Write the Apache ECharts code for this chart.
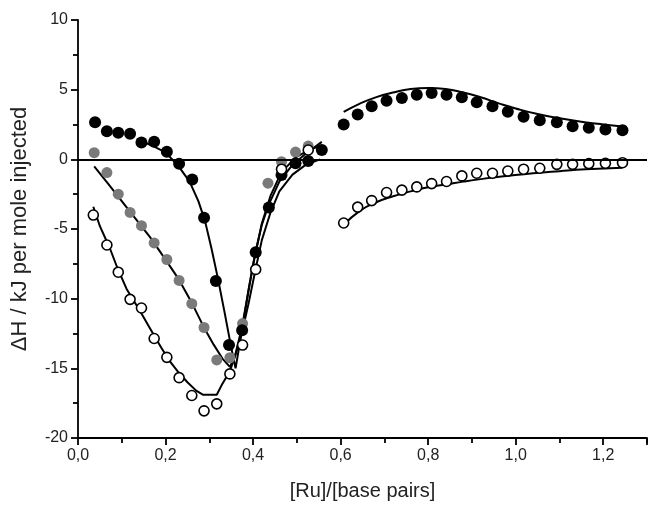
<!DOCTYPE html>
<html>
<head>
<meta charset="utf-8">
<script src="https://cdn.jsdelivr.net/npm/echarts@6/dist/echarts.min.js"></script>
<style>
  html, body { margin: 0; padding: 0; background: #fff; }
  #chart { width: 648px; height: 506px; }
</style>
</head>
<body>
<div id="chart"></div>
<script>
// measured points: [Ru]/[base pairs], dH (kJ per mole injected)
var blackLeftX = [0.039, 0.066, 0.092, 0.119, 0.145, 0.174, 0.203, 0.231, 0.261, 0.288, 0.315, 0.345, 0.375, 0.406, 0.436, 0.465, 0.497, 0.526, 0.557];
var blackLeftY = [2.66, 2.02, 1.9, 1.83, 1.21, 1.26, 0.55, -0.31, -1.45, -4.19, -8.74, -13.33, -12.26, -6.67, -3.45, -1.12, -0.29, -0.12, 0.67];

var grayX = [0.037, 0.066, 0.092, 0.119, 0.145, 0.174, 0.203, 0.231, 0.26, 0.288, 0.317, 0.347, 0.376, 0.434, 0.465, 0.497, 0.526];
var grayY = [0.48, -0.95, -2.5, -3.81, -4.76, -6.0, -7.19, -8.69, -10.36, -12.07, -14.4, -14.24, -11.79, -1.71, -0.17, 0.52, 0.95];

var openLeftX = [0.035, 0.066, 0.092, 0.119, 0.145, 0.174, 0.203, 0.231, 0.26, 0.288, 0.317, 0.347, 0.376, 0.406, 0.465, 0.526];
var openLeftY = [-4.0, -6.15, -8.1, -10.05, -10.67, -12.86, -14.21, -15.67, -16.95, -18.05, -17.55, -15.4, -13.33, -7.9, -0.71, 0.67];

var rightX = [0.607, 0.639, 0.671, 0.705, 0.74, 0.774, 0.808, 0.842, 0.877, 0.911, 0.947, 0.982, 1.018, 1.055, 1.094, 1.13, 1.167, 1.205, 1.244];
var blackRightY = [2.5, 3.21, 3.81, 4.21, 4.41, 4.64, 4.76, 4.64, 4.45, 4.09, 3.81, 3.41, 3.05, 2.81, 2.66, 2.38, 2.26, 2.14, 2.09];
var openRightY = [-4.57, -3.43, -2.96, -2.38, -2.21, -1.98, -1.74, -1.59, -1.19, -1.0, -1.0, -0.84, -0.71, -0.64, -0.36, -0.36, -0.31, -0.29, -0.24];

// fitted curves
var fitBlackX = [0.134, 0.165, 0.2, 0.23, 0.255, 0.275, 0.29, 0.305, 0.32, 0.335, 0.35, 0.36, 0.375, 0.39, 0.405, 0.42, 0.435, 0.46, 0.49, 0.52, 0.557];
var fitBlackY = [1.43, 1.05, 0.5, -0.5, -1.6, -3.0, -4.4, -6.4, -8.6, -11.0, -13.5, -15.0, -12.2, -9.3, -6.7, -4.7, -3.3, -1.6, -0.4, 0.4, 1.25];

var fitGrayX = [0.037, 0.07, 0.1, 0.13, 0.165, 0.2, 0.23, 0.26, 0.29, 0.31, 0.33, 0.347, 0.358, 0.375, 0.4, 0.42, 0.44, 0.465, 0.5, 0.53, 0.557];
var fitGrayY = [-0.5, -1.8, -3.0, -4.2, -5.6, -7.2, -8.6, -10.3, -12.2, -13.3, -14.3, -14.9, -14.2, -12.0, -7.6, -4.6, -2.6, -0.9, 0.2, 0.7, 1.0];

var fitOpenX = [0.035, 0.05, 0.073, 0.09, 0.111, 0.14, 0.164, 0.19, 0.21, 0.23, 0.25, 0.27, 0.286, 0.317, 0.33, 0.347, 0.36, 0.375, 0.39, 0.405, 0.42, 0.44, 0.46, 0.49, 0.52, 0.553];
var fitOpenY = [-3.4, -4.8, -6.4, -7.8, -9.3, -10.8, -12.1, -13.5, -14.5, -15.3, -16.0, -16.6, -16.9, -16.9, -16.1, -15.2, -14.0, -12.4, -10.3, -8.0, -5.8, -3.8, -2.3, -1.1, -0.4, 0.0];

var fitBlackRightX = [0.607, 0.644, 0.68, 0.72, 0.76, 0.8, 0.84, 0.88, 0.92, 0.963, 1.0, 1.05, 1.1, 1.15, 1.2, 1.244];
var fitBlackRightY = [3.4, 4.0, 4.45, 4.8, 5.05, 5.12, 5.05, 4.8, 4.45, 4.0, 3.65, 3.25, 2.95, 2.7, 2.5, 2.35];

var fitOpenRightX = [0.607, 0.644, 0.68, 0.72, 0.76, 0.8, 0.842, 0.88, 0.92, 0.98, 1.04, 1.1, 1.16, 1.244];
var fitOpenRightY = [-4.7, -3.7, -3.1, -2.65, -2.3, -2.0, -1.8, -1.6, -1.42, -1.2, -1.0, -0.85, -0.72, -0.6];

function pairs(xs, ys) {
    return xs.map(function (x, i) { return [x, ys[i]]; });
}

var myChart = echarts.init(document.getElementById('chart'));

var axisFont = 'Liberation Sans, Arial, sans-serif';

function fitLine(xs, ys, smooth) {
    return {
        type: 'line',
        data: pairs(xs, ys),
        showSymbol: false,
        smooth: smooth,
        lineStyle: { color: '#000', width: 2 },
        z: 2
    };
}

function dots(xs, ys, fill, border, size) {
    return {
        type: 'scatter',
        data: pairs(xs, ys),
        symbol: 'circle',
        symbolSize: size,
        itemStyle: { color: fill, borderColor: border, borderWidth: border ? 1.6 : 0, opacity: 1 },
        z: 3
    };
}

var zeroLine = fitLine([], [], false);
zeroLine.markLine = {
    silent: true,
    symbol: 'none',
    label: { show: false },
    lineStyle: { color: '#000', width: 2, type: 'solid' },
    data: [{ yAxis: 0 }]
};

var option = {
    backgroundColor: '#FFF',
    animation: false,
    grid: { left: 78, top: 20, width: 569, height: 420 },
    xAxis: {
        type: 'value',
        min: 0,
        max: 1.3,
        interval: 0.2,
        name: '[Ru]/[base pairs]',
        nameLocation: 'middle',
        nameGap: 43,
        nameTextStyle: { fontFamily: axisFont, fontSize: 20, color: '#222' },
        axisLine: { show: true, onZero: false, lineStyle: { color: '#000', width: 1.8 } },
        axisTick: { show: true, inside: false, length: 7, lineStyle: { color: '#000', width: 1.8 } },
        minorTick: { show: true, splitNumber: 2, length: 5, lineStyle: { color: '#000', width: 1.8 } },
        splitLine: { show: false },
        axisLabel: {
            fontFamily: axisFont, fontSize: 16, color: '#222', margin: 10, showMaxLabel: false,
            formatter: function (v) { return v.toFixed(1).replace('.', ','); }
        }
    },
    yAxis: {
        type: 'value',
        min: -20,
        max: 10,
        interval: 5,
        name: 'ΔH / kJ per mole injected',
        nameLocation: 'middle',
        nameGap: 47,
        nameTextStyle: { fontFamily: axisFont, fontSize: 22, color: '#222' },
        axisLine: { show: true, onZero: false, lineStyle: { color: '#000', width: 1.8 } },
        axisTick: { show: true, inside: false, length: 7, lineStyle: { color: '#000', width: 1.8 } },
        minorTick: { show: true, splitNumber: 2, length: 5, lineStyle: { color: '#000', width: 1.8 } },
        splitLine: { show: false },
        axisLabel: { fontFamily: axisFont, fontSize: 16, color: '#222', margin: 10 }
    },
    series: [
        zeroLine,
        fitLine(fitGrayX, fitGrayY, false),
        fitLine(fitBlackX, fitBlackY, false),
        fitLine(fitOpenX, fitOpenY, false),
        fitLine(fitBlackRightX, fitBlackRightY, true),
        fitLine(fitOpenRightX, fitOpenRightY, true),
        dots(grayX, grayY, '#7a7a7a', null, 11),
        dots(blackLeftX, blackLeftY, '#000', null, 12),
        dots(rightX, blackRightY, '#000', null, 12),
        dots(openLeftX, openLeftY, '#fff', '#000', 10),
        dots(rightX, openRightY, '#fff', '#000', 10)
    ]
};

myChart.setOption(option);
</script>
</body>
</html>
